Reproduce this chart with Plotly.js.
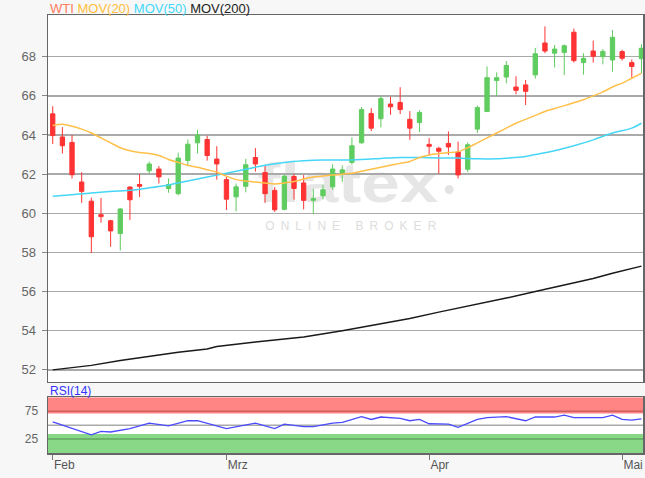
<!DOCTYPE html>
<html>
<head>
<meta charset="utf-8">
<script src="https://cdn.plot.ly/plotly-3.0.1.min.js"></script>
<style>html,body{margin:0;padding:0;background:#f7f7f7;}#chart{width:645px;height:478px;}</style>
</head>
<body>
<div id="chart"></div>
<script>
// ---- data ----
const candleIdx = Array.from({length: 62}, (_, i) => i);
const openP  = [65.08,63.9,63.62,61.6,60.62,59.93,59.62,58.97,61.34,61.47,62.17,62.26,61.26,61.0,62.7,63.6,63.77,62.77,61.72,60.84,61.38,62.85,62.08,61.17,60.2,61.88,61.55,60.66,60.9,61.35,62.05,62.6,63.6,65.1,64.83,65.58,65.66,64.8,64.64,63.52,63.32,63.57,63.13,62.25,64.3,65.2,66.78,66.96,66.45,66.56,67.07,68.7,68.18,68.22,69.25,67.7,68.29,68.0,67.83,68.26,67.7,67.9];
const highP  = [65.47,64.4,64.0,62.1,60.8,60.78,59.67,60.26,61.38,62.0,62.64,62.41,61.78,63.1,63.77,64.27,63.96,63.43,61.86,61.52,62.78,63.33,62.45,61.34,61.96,62.0,61.95,61.25,61.45,62.5,62.45,63.88,65.43,65.37,66.0,65.95,66.44,65.22,65.27,63.84,63.4,64.18,63.66,63.62,65.5,67.5,67.2,67.78,67.0,66.81,68.45,69.55,68.6,68.63,69.43,68.18,68.82,68.39,69.36,68.35,67.86,68.64];
const lowP   = [63.54,63.05,61.77,60.53,57.97,59.53,58.29,58.1,59.66,60.83,62.03,61.52,61.05,60.92,62.4,63.05,62.69,61.72,60.17,60.1,61.07,62.13,60.53,60.07,60.15,60.7,60.2,59.95,60.72,61.2,61.6,62.48,63.55,64.2,64.39,65.03,65.07,63.75,64.15,62.94,62.02,62.98,61.78,62.1,64.1,65.18,65.99,66.64,66.08,65.53,66.88,68.18,67.45,67.06,67.7,67.08,67.7,67.61,67.23,67.8,66.92,67.15];
const closeP = [63.97,63.45,61.97,61.12,58.8,59.83,59.1,60.22,60.69,61.38,62.52,61.86,61.47,62.82,63.53,64.0,62.95,62.52,60.72,61.35,62.48,62.52,61.0,60.18,61.9,61.27,60.66,60.75,61.2,62.26,62.22,63.45,65.3,64.35,65.86,65.44,65.3,64.35,65.15,63.42,63.17,63.39,61.96,63.5,65.4,66.93,66.93,67.55,66.28,66.23,68.15,68.29,68.39,68.56,67.8,67.91,68.02,68.27,68.99,67.92,67.5,68.43];

const ma20Idx = [0,1,2,3,4,5,6,7,8,9,10,11,12,13,14,15,16,17,18,19,20,21,22,23,24,25,26,27,28,29,30,31,32,33,34,35,36,37,38,39,40,41,42,43,44,45,46,47,48,49,50,51,52,53,54,55,56,57,58,59,60,61];
const ma20   = [64.48,64.55,64.45,64.3,64.1,63.85,63.6,63.35,63.2,63.1,63.05,62.95,62.75,62.6,62.45,62.35,62.22,62.1,61.9,61.72,61.65,61.6,61.55,61.5,61.55,61.62,61.75,61.85,61.9,61.95,62.0,62.05,62.15,62.25,62.35,62.45,62.55,62.65,62.85,62.98,63.05,63.1,63.15,63.35,63.6,63.85,64.1,64.35,64.6,64.8,65.0,65.2,65.35,65.5,65.65,65.8,66.0,66.2,66.45,66.65,66.9,67.15];

const ma50Idx = [0,2,5,8,10,12,14,16,18,20,22,24,26,28,30,32,34,36,38,40,42,44,46,48,49,50,52,54,56,58,60,61];
const ma50    = [60.87,60.95,61.08,61.18,61.3,61.45,61.65,61.85,62.05,62.25,62.45,62.6,62.68,62.72,62.72,62.75,62.8,62.85,62.85,62.83,62.82,62.78,62.78,62.85,62.9,63.0,63.2,63.45,63.75,64.1,64.35,64.6];

const ma200Idx = [0,3,4,7,10,13,16,17,21,26,30,34,37,40,43,47,50,52,56,58,61];
const ma200    = [52.0,52.2,52.23,52.48,52.7,52.9,53.07,53.2,53.42,53.68,54.0,54.37,54.62,54.95,55.25,55.67,56.0,56.22,56.67,56.94,57.3];

const rsiIdx = [0,4,5,6,8,10,12,14,15,18,21,23,24,26,27,29,30,32,33,34,36,37,38,39,41,42,44,45,47,49,50,52,53,54,57,58,59,60,61];
const rsi    = [55.8,32.7,39,37.8,44,53.8,48.7,58,58,44,53.8,44,52,47.4,47.4,53.8,55,65.4,60.3,64.7,62.2,58,60.3,52.6,52,46,60.3,63.5,65.4,58,64.7,64.7,68,63.5,63.5,68,60.3,59,61.5];

const monthTickIdx = [0,18,39,59];
const monthLabels  = ['Feb','Mrz','Apr','Mai'];
const priceTicks   = [52,54,56,58,60,62,64,66,68];
const rsiTicks     = [25,75];

// ---- styling ----
const RED = '#ff3333', GREEN = '#5fcc5f';
const FONT = 'Liberation Sans, Arial, sans-serif';

const traces = [
  {type:'scatter', mode:'lines', x:ma200Idx, y:ma200, xaxis:'x2', yaxis:'y', line:{color:'#1a1a1a', width:1.5}, hoverinfo:'skip'},
  {type:'scatter', mode:'lines', x:ma50Idx, y:ma50, xaxis:'x2', yaxis:'y', line:{color:'#45d6f7', width:1.5, shape:'spline'}, hoverinfo:'skip'},
  {type:'scatter', mode:'lines', x:ma20Idx, y:ma20, xaxis:'x2', yaxis:'y', line:{color:'#ffc04a', width:1.5, shape:'spline'}, hoverinfo:'skip'},
  {type:'candlestick', x:candleIdx, open:openP, high:highP, low:lowP, close:closeP, xaxis:'x2', yaxis:'y',
   increasing:{line:{color:GREEN, width:1}, fillcolor:GREEN},
   decreasing:{line:{color:RED, width:1}, fillcolor:RED}, whiskerwidth:0},
  {type:'scatter', mode:'lines', x:rsiIdx, y:rsi, xaxis:'x', yaxis:'y2', line:{color:'#4a4aff', width:1.3}, hoverinfo:'skip'}
];

const wm = "<svg xmlns='http://www.w3.org/2000/svg' width='200' height='78' viewBox='0 0 200 78'>" +
  "<text x='0' y='44' textLength='182' lengthAdjust='spacingAndGlyphs' font-family='Liberation Sans, Arial' font-weight='bold' font-size='56' fill='#e6e6e6'>flatex</text>" +
  "<circle cx='193' cy='32' r='4.5' fill='#e3e3e3'/>" +
  "<text x='8' y='72' textLength='172' lengthAdjust='spacing' font-family='Liberation Sans, Arial' font-size='12' fill='#dddddd'>ONLINE BROKER</text></svg>";

const layout = {
  width:645, height:478,
  paper_bgcolor:'#f7f7f7', plot_bgcolor:'#ffffff',
  margin:{l:48, r:2, t:15, b:25},
  showlegend:false,
  boxgap:0.36,
  xaxis:{domain:[0,1], anchor:'y2', range:[-0.49,61.16], tickmode:'array', tickvals:monthTickIdx, ticktext:monthLabels,
         ticks:'outside', ticklen:5, tickcolor:'#777', ticklabelposition:'outside right',
         tickfont:{family:FONT, size:12, color:'#555'}, showgrid:false, zeroline:false,
         showline:true, mirror:true, linecolor:'#666', linewidth:1.5},
  xaxis2:{domain:[0,1], anchor:'y', matches:'x', showticklabels:false, ticks:'', showgrid:false, zeroline:false,
          showline:true, mirror:true, linecolor:'#666', linewidth:1.5, rangeslider:{visible:false}},
  yaxis:{domain:[0.1625,1], anchor:'x2', range:[51.39,70.13], tickmode:'array', tickvals:priceTicks,
         ticks:'outside', ticklen:5, tickcolor:'#888', ticklabelstandoff:3,
         tickfont:{family:FONT, size:13, color:'#666'}, showgrid:true, gridcolor:'#aaaaaa', gridwidth:1.5, zeroline:false,
         showline:true, mirror:true, linecolor:'#666', linewidth:1.5},
  yaxis2:{domain:[0,0.127], anchor:'x', range:[0,100], tickmode:'array', tickvals:rsiTicks,
          ticks:'', ticklabelstandoff:6,
          tickfont:{family:FONT, size:12, color:'#666'}, showgrid:false, zeroline:false,
          showline:true, mirror:true, linecolor:'#666', linewidth:1.5},
  shapes:[
    {type:'rect', xref:'paper', yref:'y2', x0:0, x1:1, y0:71, y1:100, fillcolor:'#ff8585', line:{width:0}, layer:'below'},
    {type:'rect', xref:'paper', yref:'y2', x0:0, x1:1, y0:0, y1:34, fillcolor:'#88d888', line:{width:0}, layer:'below'},
    {type:'line', xref:'paper', yref:'y2', x0:0, x1:1, y0:75, y1:75, line:{color:'#d06060', width:1.5}, layer:'below'},
    {type:'line', xref:'paper', yref:'y2', x0:0, x1:1, y0:50, y1:50, line:{color:'#aaaaaa', width:1.5}, layer:'below'},
    {type:'line', xref:'paper', yref:'y2', x0:0, x1:1, y0:25, y1:25, line:{color:'#60a860', width:1.5}, layer:'below'}
  ],
  images:[{source:'data:image/svg+xml;charset=utf-8,' + encodeURIComponent(wm), xref:'x2', yref:'y',
           x:21.2, y:62.85, sizex:20.6, sizey:4.0, sizing:'stretch', xanchor:'left', yanchor:'top', layer:'below'}],
  annotations:[
    {xref:'paper', yref:'paper', x:0, y:1, xanchor:'left', yanchor:'bottom', yshift:-3, showarrow:false,
     font:{family:FONT, size:13, color:'#222'},
     text:"<span style='color:#ff7a5c'>WTI</span> <span style='color:#ffbe3c'>MOV(20)</span> <span style='color:#3fd9fa'>MOV(50)</span> <span style='color:#222'>MOV(200)</span>"},
    {xref:'paper', yref:'paper', x:0, y:0.127, xanchor:'left', yanchor:'bottom', yshift:-3, showarrow:false,
     font:{family:FONT, size:12, color:'#3333ff'}, text:'RSI(14)'}
  ]
};

Plotly.newPlot('chart', traces, layout, {displayModeBar:false, staticPlot:true});
</script>
</body>
</html>
